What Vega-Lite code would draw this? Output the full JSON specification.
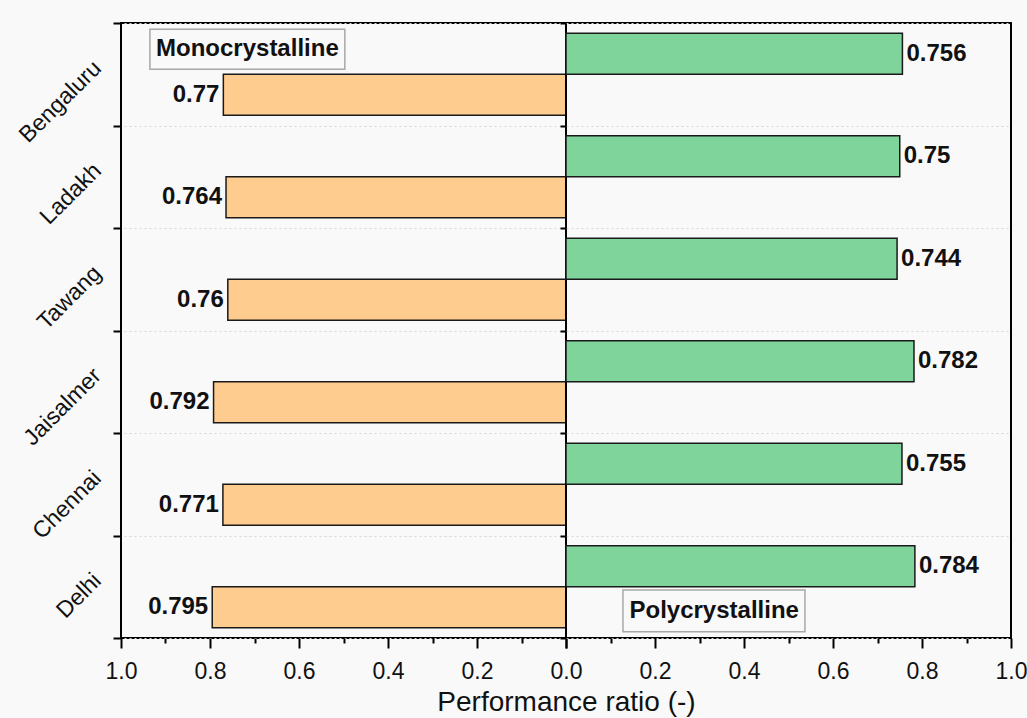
{
  "$schema": "https://vega.github.io/schema/vega-lite/v6.json",
  "background": "#f9f9f9",
  "padding": {"left": 14, "top": 14, "right": 15, "bottom": 2},
  "spacing": 0,
  "bounds": "flush",
  "config": {
    "font": "Liberation Sans",
    "view": {"stroke": "#000000", "strokeWidth": 2},
    "axis": {"labelColor": "#111111", "titleColor": "#111111"}
  },
  "datasets": {
    "pr": [
      {"city": "Bengaluru", "type": "Monocrystalline", "value": 0.77},
      {"city": "Ladakh", "type": "Monocrystalline", "value": 0.764},
      {"city": "Tawang", "type": "Monocrystalline", "value": 0.76},
      {"city": "Jaisalmer", "type": "Monocrystalline", "value": 0.792},
      {"city": "Chennai", "type": "Monocrystalline", "value": 0.771},
      {"city": "Delhi", "type": "Monocrystalline", "value": 0.795},
      {"city": "Bengaluru", "type": "Polycrystalline", "value": 0.756},
      {"city": "Ladakh", "type": "Polycrystalline", "value": 0.75},
      {"city": "Tawang", "type": "Polycrystalline", "value": 0.744},
      {"city": "Jaisalmer", "type": "Polycrystalline", "value": 0.782},
      {"city": "Chennai", "type": "Polycrystalline", "value": 0.755},
      {"city": "Delhi", "type": "Polycrystalline", "value": 0.784}
    ]
  },
  "hconcat": [
    {
      "width": 445,
      "height": 615,
      "resolve": {"scale": {"y": "independent"}, "axis": {"y": "independent"}},
      "layer": [
        {
          "data": {"name": "pr"},
          "transform": [{"filter": "datum.type == 'Monocrystalline'"}],
          "mark": {"type": "bar", "fill": "#FFCC8F", "stroke": "#1a1a1a", "strokeWidth": 1.5},
          "encoding": {
            "y": {
              "field": "city", "type": "nominal",
              "scale": {"domain": ["Bengaluru", "Ladakh", "Tawang", "Jaisalmer", "Chennai", "Delhi"], "paddingInner": 0, "paddingOuter": 0},
              "axis": {"title": null, "labelAngle": -45, "labelFontSize": 23, "labelPadding": 16, "labelOffset": -10, "tickBand": "extent", "grid": true, "gridDash": [2, 3], "gridColor": "#d6d6d6", "ticks": true, "tickSize": 8, "tickColor": "#000000", "tickWidth": 2, "domain": false}
            },
            "yOffset": {"field": "type", "type": "nominal", "scale": {"domain": ["Polycrystalline", "Monocrystalline"], "paddingInner": 0, "paddingOuter": 0.25}},
            "x": {
              "field": "value", "type": "quantitative",
              "scale": {"domain": [0, 1], "reverse": true, "nice": false},
              "axis": {
                "title": "Performance ratio (-)", "titleX": 445, "titleAlign": "center", "titleFontSize": 28, "titleFontWeight": "normal", "titlePadding": 5,
                "values": [0, 0.05, 0.1, 0.15, 0.2, 0.25, 0.3, 0.35, 0.4, 0.45, 0.5, 0.55, 0.6, 0.65, 0.7, 0.75, 0.8, 0.85, 0.9, 0.95, 1.0],
                "labelExpr": "abs(datum.value*5 - round(datum.value*5)) < 0.01 && datum.value > 0.01 ? format(datum.value, '.1f') : ''",
                "tickSize": {"condition": {"test": "abs(datum.value*5 - round(datum.value*5)) < 0.01", "value": 10}, "value": 5},
                "tickColor": "#000000", "tickWidth": 2, "domain": false, "grid": false,
                "labelFontSize": 23, "labelPadding": 12, "labelFlush": false, "labelOverlap": false
              }
            }
          }
        },
        {
          "data": {"name": "pr"},
          "transform": [{"filter": "datum.type == 'Monocrystalline'"}],
          "mark": {"type": "text", "align": "right", "baseline": "middle", "dx": -4, "fontWeight": "bold", "fontSize": 24, "color": "#111111"},
          "encoding": {
            "y": {"field": "city", "type": "nominal", "scale": {"domain": ["Bengaluru", "Ladakh", "Tawang", "Jaisalmer", "Chennai", "Delhi"], "paddingInner": 0, "paddingOuter": 0}, "axis": null},
            "yOffset": {"field": "type", "type": "nominal", "scale": {"domain": ["Polycrystalline", "Monocrystalline"], "paddingInner": 0, "paddingOuter": 0.25}},
            "x": {"field": "value", "type": "quantitative"},
            "text": {"field": "value", "type": "nominal"}
          }
        },
        {
          "data": {"values": [{}]},
          "mark": {"type": "rect", "fill": "#f9f9f9", "stroke": "#a8a8a8", "strokeWidth": 1.5},
          "encoding": {
            "x": {"datum": 0.935, "type": "quantitative"},
            "x2": {"datum": 0.497},
            "y": {"datum": 0.99, "type": "quantitative", "scale": {"domain": [0, 1], "nice": false}, "axis": null},
            "y2": {"datum": 0.925}
          }
        },
        {
          "data": {"values": [{}]},
          "mark": {"type": "text", "text": "Monocrystalline", "fontWeight": "bold", "fontSize": 24, "align": "center", "baseline": "middle", "color": "#111111"},
          "encoding": {
            "x": {"datum": 0.716, "type": "quantitative"},
            "y": {"datum": 0.957, "type": "quantitative", "scale": {"domain": [0, 1], "nice": false}, "axis": null}
          }
        }
      ]
    },
    {
      "width": 445,
      "height": 615,
      "resolve": {"scale": {"y": "independent"}, "axis": {"y": "independent"}},
      "layer": [
        {
          "data": {"name": "pr"},
          "transform": [{"filter": "datum.type == 'Polycrystalline'"}],
          "mark": {"type": "bar", "fill": "#7FD49B", "stroke": "#1a1a1a", "strokeWidth": 1.5},
          "encoding": {
            "y": {
              "field": "city", "type": "nominal",
              "scale": {"domain": ["Bengaluru", "Ladakh", "Tawang", "Jaisalmer", "Chennai", "Delhi"], "paddingInner": 0, "paddingOuter": 0},
              "axis": {"title": null, "labels": false, "tickBand": "extent", "grid": true, "gridDash": [2, 3], "gridColor": "#d6d6d6", "ticks": true, "tickSize": 6, "tickColor": "#000000", "tickWidth": 2, "domain": false}
            },
            "yOffset": {"field": "type", "type": "nominal", "scale": {"domain": ["Polycrystalline", "Monocrystalline"], "paddingInner": 0, "paddingOuter": 0.25}},
            "x": {
              "field": "value", "type": "quantitative",
              "scale": {"domain": [0, 1], "nice": false},
              "axis": {
                "title": null,
                "values": [0, 0.05, 0.1, 0.15, 0.2, 0.25, 0.3, 0.35, 0.4, 0.45, 0.5, 0.55, 0.6, 0.65, 0.7, 0.75, 0.8, 0.85, 0.9, 0.95, 1.0],
                "labelExpr": "abs(datum.value*5 - round(datum.value*5)) < 0.01 ? format(datum.value, '.1f') : ''",
                "tickSize": {"condition": {"test": "abs(datum.value*5 - round(datum.value*5)) < 0.01", "value": 10}, "value": 5},
                "tickColor": "#000000", "tickWidth": 2, "domain": false, "grid": false,
                "labelFontSize": 23, "labelPadding": 12, "labelFlush": false, "labelOverlap": false
              }
            }
          }
        },
        {
          "data": {"name": "pr"},
          "transform": [{"filter": "datum.type == 'Polycrystalline'"}],
          "mark": {"type": "text", "align": "left", "baseline": "middle", "dx": 4, "fontWeight": "bold", "fontSize": 24, "color": "#111111"},
          "encoding": {
            "y": {"field": "city", "type": "nominal", "scale": {"domain": ["Bengaluru", "Ladakh", "Tawang", "Jaisalmer", "Chennai", "Delhi"], "paddingInner": 0, "paddingOuter": 0}, "axis": null},
            "yOffset": {"field": "type", "type": "nominal", "scale": {"domain": ["Polycrystalline", "Monocrystalline"], "paddingInner": 0, "paddingOuter": 0.25}},
            "x": {"field": "value", "type": "quantitative"},
            "text": {"field": "value", "type": "nominal"}
          }
        },
        {
          "data": {"values": [{}]},
          "mark": {"type": "rect", "fill": "#f9f9f9", "stroke": "#a8a8a8", "strokeWidth": 1.5},
          "encoding": {
            "x": {"datum": 0.128, "type": "quantitative"},
            "x2": {"datum": 0.537},
            "y": {"datum": 0.078, "type": "quantitative", "scale": {"domain": [0, 1], "nice": false}, "axis": null},
            "y2": {"datum": 0.01}
          }
        },
        {
          "data": {"values": [{}]},
          "mark": {"type": "text", "text": "Polycrystalline", "fontWeight": "bold", "fontSize": 24, "align": "center", "baseline": "middle", "color": "#111111"},
          "encoding": {
            "x": {"datum": 0.333, "type": "quantitative"},
            "y": {"datum": 0.044, "type": "quantitative", "scale": {"domain": [0, 1], "nice": false}, "axis": null}
          }
        }
      ]
    }
  ]
}
